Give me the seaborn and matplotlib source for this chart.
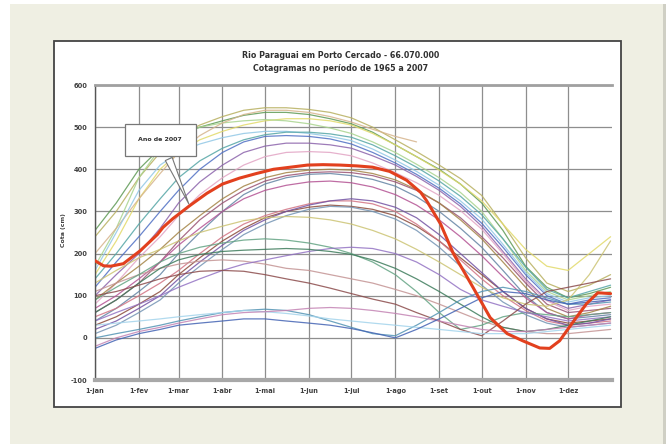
import numpy as np
import pandas as pd
import matplotlib
matplotlib.use("Agg")
import matplotlib.pyplot as plt
from matplotlib.patches import Rectangle
import seaborn as sns

# Sampling days (1st and 16th of each month, day-of-year starting at 0)
dias = [0, 15, 31, 46, 59, 74, 90, 105, 120, 135, 151, 166, 181, 196, 212,
        227, 243, 258, 273, 288, 304, 319, 334, 349, 364]

meses_dia = [0, 31, 59, 90, 120, 151, 181, 212, 243, 273, 304, 334]
meses_rotulo = ["1-jan", "1-fev", "1-mar", "1-abr", "1-mai", "1-jun",
                "1-jul", "1-ago", "1-set", "1-out", "1-nov", "1-dez"]

y_ticks = [-100, 0, 100, 200, 300, 400, 500, 600]

titulo = "Rio Paraguai em Porto Cercado - 66.070.000\nCotagramas no período de 1965 a 2007"
rotulo_y = "Cota (cm)"
rotulo_2007 = "Ano de 2007"

N = np.nan
# stage series (cm) for the historical years
cotas = {
    "t1": [240, 300, 380, 440, 480, 505, 525, 540, 546, 546, 542, 535, 522, 500, 470, 442, 410, 378, 338, 270, 190, 130, 110, 125, 150],
    "t2": [255, 320, 400, 450, 480, 500, 515, 528, 535, 535, 530, 520, 508, 488, 458, 430, 400, 365, 320, 255, 170, 120, 95, 105, 120],
    "t3": [150, 230, 330, 400, 440, 470, 490, 505, 515, 520, 520, 515, 505, 485, 458, 430, 398, 365, 325, 270, 210, 170, 160, 200, 240],
    "t4": [170, 260, 380, 450, 480, 500, 510, 515, 518, 515, 508, 498, 485, 465, 440, 412, 380, 345, 300, 235, 160, 110, 90, 100, 110],
    "t5": [200, 260, 330, 390, 440, 480, 510, 530, 540, 540, 535, 525, 512, 495, 478, 465, N, N, N, N, N, N, N, N, N],
    "m1": [120, 180, 240, 300, 350, 400, 440, 465, 478, 480, 478, 472, 460, 440, 415, 388, 355, 318, 272, 215, 150, 100, 80, 90, 95],
    "m2": [100, 150, 200, 260, 320, 370, 410, 440, 455, 462, 462, 458, 450, 432, 410, 383, 350, 312, 265, 205, 140, 90, 70, 80, 90],
    "m3": [160, 250, 350, 410, 440, 460, 475, 485, 490, 490, 485, 478, 468, 448, 422, 395, 362, 325, 282, 222, 155, 105, 85, 95, 100],
    "m4": [80, 130, 190, 240, 290, 340, 380, 410, 430, 440, 442, 440, 432, 415, 392, 368, 338, 302, 258, 200, 135, 88, 65, 75, 80],
    "m5": [140, 200, 270, 330, 380, 420, 450, 470, 482, 488, 488, 484, 476, 458, 432, 405, 372, 336, 292, 235, 168, 115, 95, 110, 125],
    "l1": [60, 90, 130, 180, 230, 280, 320, 350, 372, 385, 392, 394, 392, 385, 370, 350, 320, 285, 240, 190, 130, 80, 60, 65, 70],
    "l2": [90, 130, 170, 210, 250, 290, 330, 360, 380, 392, 398, 400, 398, 390, 375, 352, 320, 280, 235, 180, 120, 70, 50, 60, 75],
    "l3": [40, 70, 110, 150, 200, 250, 300, 340, 365, 380, 388, 390, 385, 376, 360, 335, 300, 260, 215, 160, 100, 60, 45, 50, 55],
    "l4": [70, 100, 140, 180, 220, 260, 300, 330, 350, 362, 370, 372, 368, 358, 340, 315, 280, 240, 195, 145, 95, 60, 45, 55, 60],
    "k1": [30, 50, 80, 110, 150, 190, 230, 260, 285, 300, 310, 315, 312, 305, 290, 265, 230, 190, 150, 110, 70, 45, 35, 40, 45],
    "k2": [50, 70, 100, 130, 160, 200, 240, 270, 290, 305, 318, 325, 325, 318, 300, 270, 230, 185, 140, 100, 65, 40, 30, 35, 40],
    "k3": [20, 40, 70, 100, 140, 180, 220, 255, 280, 300, 315, 325, 330, 325, 310, 285, 245, 200, 155, 110, 70, 45, 30, 35, 45],
    "k4": [10, 30, 60, 90, 130, 170, 210, 245, 270, 290, 305, 312, 310, 300, 282, 255, 215, 170, 125, 85, 55, 35, 25, 30, 35],
    "g1": [130, 160, 190, 210, 230, 250, 265, 278, 285, 288, 286, 280, 270, 255, 235, 210, 180, 150, 120, 95, 80, 75, 90, 150, 230],
    "g2": [110, 130, 150, 165, 175, 182, 185, 182, 175, 165, 160, 150, 140, 130, 115, 100, 80, 60, 40, 25, 15, 10, 10, 15, 20],
    "g3": [90, 120, 150, 180, 200, 215, 225, 232, 235, 232, 225, 215, 200, 180, 150, 110, 60, 20, 30, 50, 60, 55, 50, 55, 60],
    "g4": [40, 60, 80, 100, 120, 140, 160, 175, 185, 195, 205, 212, 215, 212, 200, 180, 150, 115, 90, 75, 60, 50, 40, 45, 50],
    "f1": [60, 90, 130, 165, 185, 198, 205, 208, 210, 212, 210, 205, 198, 185, 165, 140, 110, 80, 50, 25, 15, 20, 30, 40, 50],
    "f2": [100, 110, 125, 140, 150, 158, 160, 158, 150, 140, 130, 118, 105, 92, 80, 60, 40, 20, 5, 40, 80, 110, 120, 130, 140],
    "f3": [0, 10, 20, 30, 40, 50, 60, 65, 68, 65, 55, 40, 25, 10, 5, 30, 60, 90, 110, 120, 110, 95, 80, 80, 85],
    "f4": [30, 35, 40, 45, 50, 55, 60, 65, 62, 58, 52, 45, 40, 35, 30, 25, 20, 15, 10, 10, 10, 15, 20, 25, 30],
    "f5": [-20, 0, 15, 25, 35, 45, 55, 60, 62, 65, 70, 72, 70, 65, 58, 50, 40, 30, 20, 15, 15, 20, 25, 30, 35],
    "f6": [-25, -5, 10, 20, 30, 35, 40, 45, 45, 40, 35, 30, 22, 12, 0, 20, 45, 70, 95, 110, 105, 90, 80, 85, 90],
}

# 2007 stage, read at a finer spacing
dias_2007 = [0, 6, 11, 20, 32, 44, 48, 55, 67, 79, 90, 102, 114, 126, 138,
             150, 161, 173, 185, 196, 208, 220, 230, 234, 244, 253, 260, 267,
             279, 291, 302, 314, 321, 328, 338, 347, 355, 364]
cota_2007 = [183, 171, 170, 176, 207, 245, 262, 283, 314, 343, 365, 379, 390,
             400, 405, 410, 411, 410, 408, 405, 395, 374, 345, 326, 270, 200,
             160, 119, 48, 10, -7, -24, -25, -7, 40, 81, 107, 105]

cores = {
    "t1": "#b8b060", "t2": "#5f9a55", "t3": "#e2da6a", "t4": "#a9d48f", "t5": "#d6b48c",
    "m1": "#5070c4", "m2": "#8c64ac", "m3": "#92c8e6", "m4": "#e2a4c4", "m5": "#55a6a6",
    "l1": "#9a5474", "l2": "#a48446", "l3": "#6484a4", "l4": "#b45494",
    "k1": "#8c4c3c", "k2": "#d27484", "k3": "#7454a4", "k4": "#7494b4",
    "g1": "#ccc474", "g2": "#c49494", "g3": "#64a484", "g4": "#9474c4",
    "f1": "#3e7c5c", "f2": "#8c4c4c", "f3": "#5494b4", "f4": "#a4d4ec",
    "f5": "#c484b4", "f6": "#4464b4",
}

linhas = []
for serie, valores in cotas.items():
    for d, v in zip(dias, valores):
        linhas.append({"serie": serie, "dia": d, "cota": v})
df = pd.DataFrame(linhas)
df_2007 = pd.DataFrame({"dia": dias_2007, "cota": cota_2007})

sns.set_style("white")
plt.rcParams["font.family"] = ["DejaVu Sans"]

W, H = 666, 444
fig = plt.figure(figsize=(W / 100, H / 100), dpi=100, facecolor="white")

def px_rect(x0, y0, x1, y1):
    return (x0 / W, 1 - y1 / H, (x1 - x0) / W, (y1 - y0) / H)

# page background and white chart panel (behind the axes)
bx, by, bw, bh = px_rect(10, 4, 663, 444)
fig.patches.append(Rectangle((bx, by), bw, bh, transform=fig.transFigure,
                             facecolor="#efefe3", edgecolor="none", zorder=-3))
fig.patches.append(Rectangle((663 / W, 0), 3 / W, 440 / H, transform=fig.transFigure,
                             facecolor="#cfcfc4", edgecolor="none", zorder=-3))
px, py, pw, ph = px_rect(54, 41, 621, 407)
fig.patches.append(Rectangle((px, py), pw, ph, transform=fig.transFigure,
                             facecolor="white", edgecolor="#444444", linewidth=1.3, zorder=-2))

ax = fig.add_axes(px_rect(95, 85, 612, 380))
ax.set_facecolor("white")

sns.lineplot(data=df, x="dia", y="cota", hue="serie", palette=cores,
             estimator=None, sort=False, legend=False, linewidth=0.9,
             alpha=0.85, ax=ax)
sns.lineplot(data=df_2007, x="dia", y="cota", color="#e2401e",
             estimator=None, sort=False, linewidth=2.2, ax=ax, zorder=5)

ax.set_xlim(0, 365)
ax.set_ylim(-100, 600)
ax.set_xticks(meses_dia)
ax.set_xticklabels(meses_rotulo)
ax.set_yticks(y_ticks)
ax.set_yticklabels([str(v) for v in y_ticks])
ax.grid(True, color="#8e8e8e", linewidth=0.9)
ax.set_axisbelow(True)
ax.tick_params(axis="both", labelsize=4.8, colors="#404040", length=3,
               width=0.8, direction="out", pad=2.5)
for lab in ax.get_xticklabels() + ax.get_yticklabels():
    lab.set_fontweight("bold")
ax.set_xlabel("")
ax.set_ylabel("")

ax.spines["right"].set_visible(False)
ax.spines["top"].set_color("#a0a0a0")
ax.spines["top"].set_linewidth(2.0)
ax.spines["left"].set_color("#555555")
ax.spines["left"].set_linewidth(1.0)
ax.spines["bottom"].set_color("#a8a8a8")
ax.spines["bottom"].set_linewidth(3.0)

fig.text(64 / W, 1 - 230 / H, rotulo_y, rotation=90, ha="center", va="center",
         fontsize=4.5, fontweight="bold", color="#404040")
fig.text(341 / W, 1 - 62 / H, titulo, ha="center", va="center",
         fontsize=5.7, fontweight="bold", color="#303030", linespacing=1.45)

ax.annotate(rotulo_2007, xy=(67, 312), xytext=(46, 470),
            textcoords="data", ha="center", va="center",
            fontsize=4.5, fontweight="bold", color="#303030",
            bbox=dict(boxstyle="square,pad=2.2", fc="white", ec="#777777", lw=0.9),
            arrowprops=dict(arrowstyle="wedge,tail_width=1.2,shrink_factor=0.5",
                            fc="white", ec="#777777", lw=0.8),
            zorder=10)

fig.savefig("out.png", dpi=100, facecolor=fig.get_facecolor())
